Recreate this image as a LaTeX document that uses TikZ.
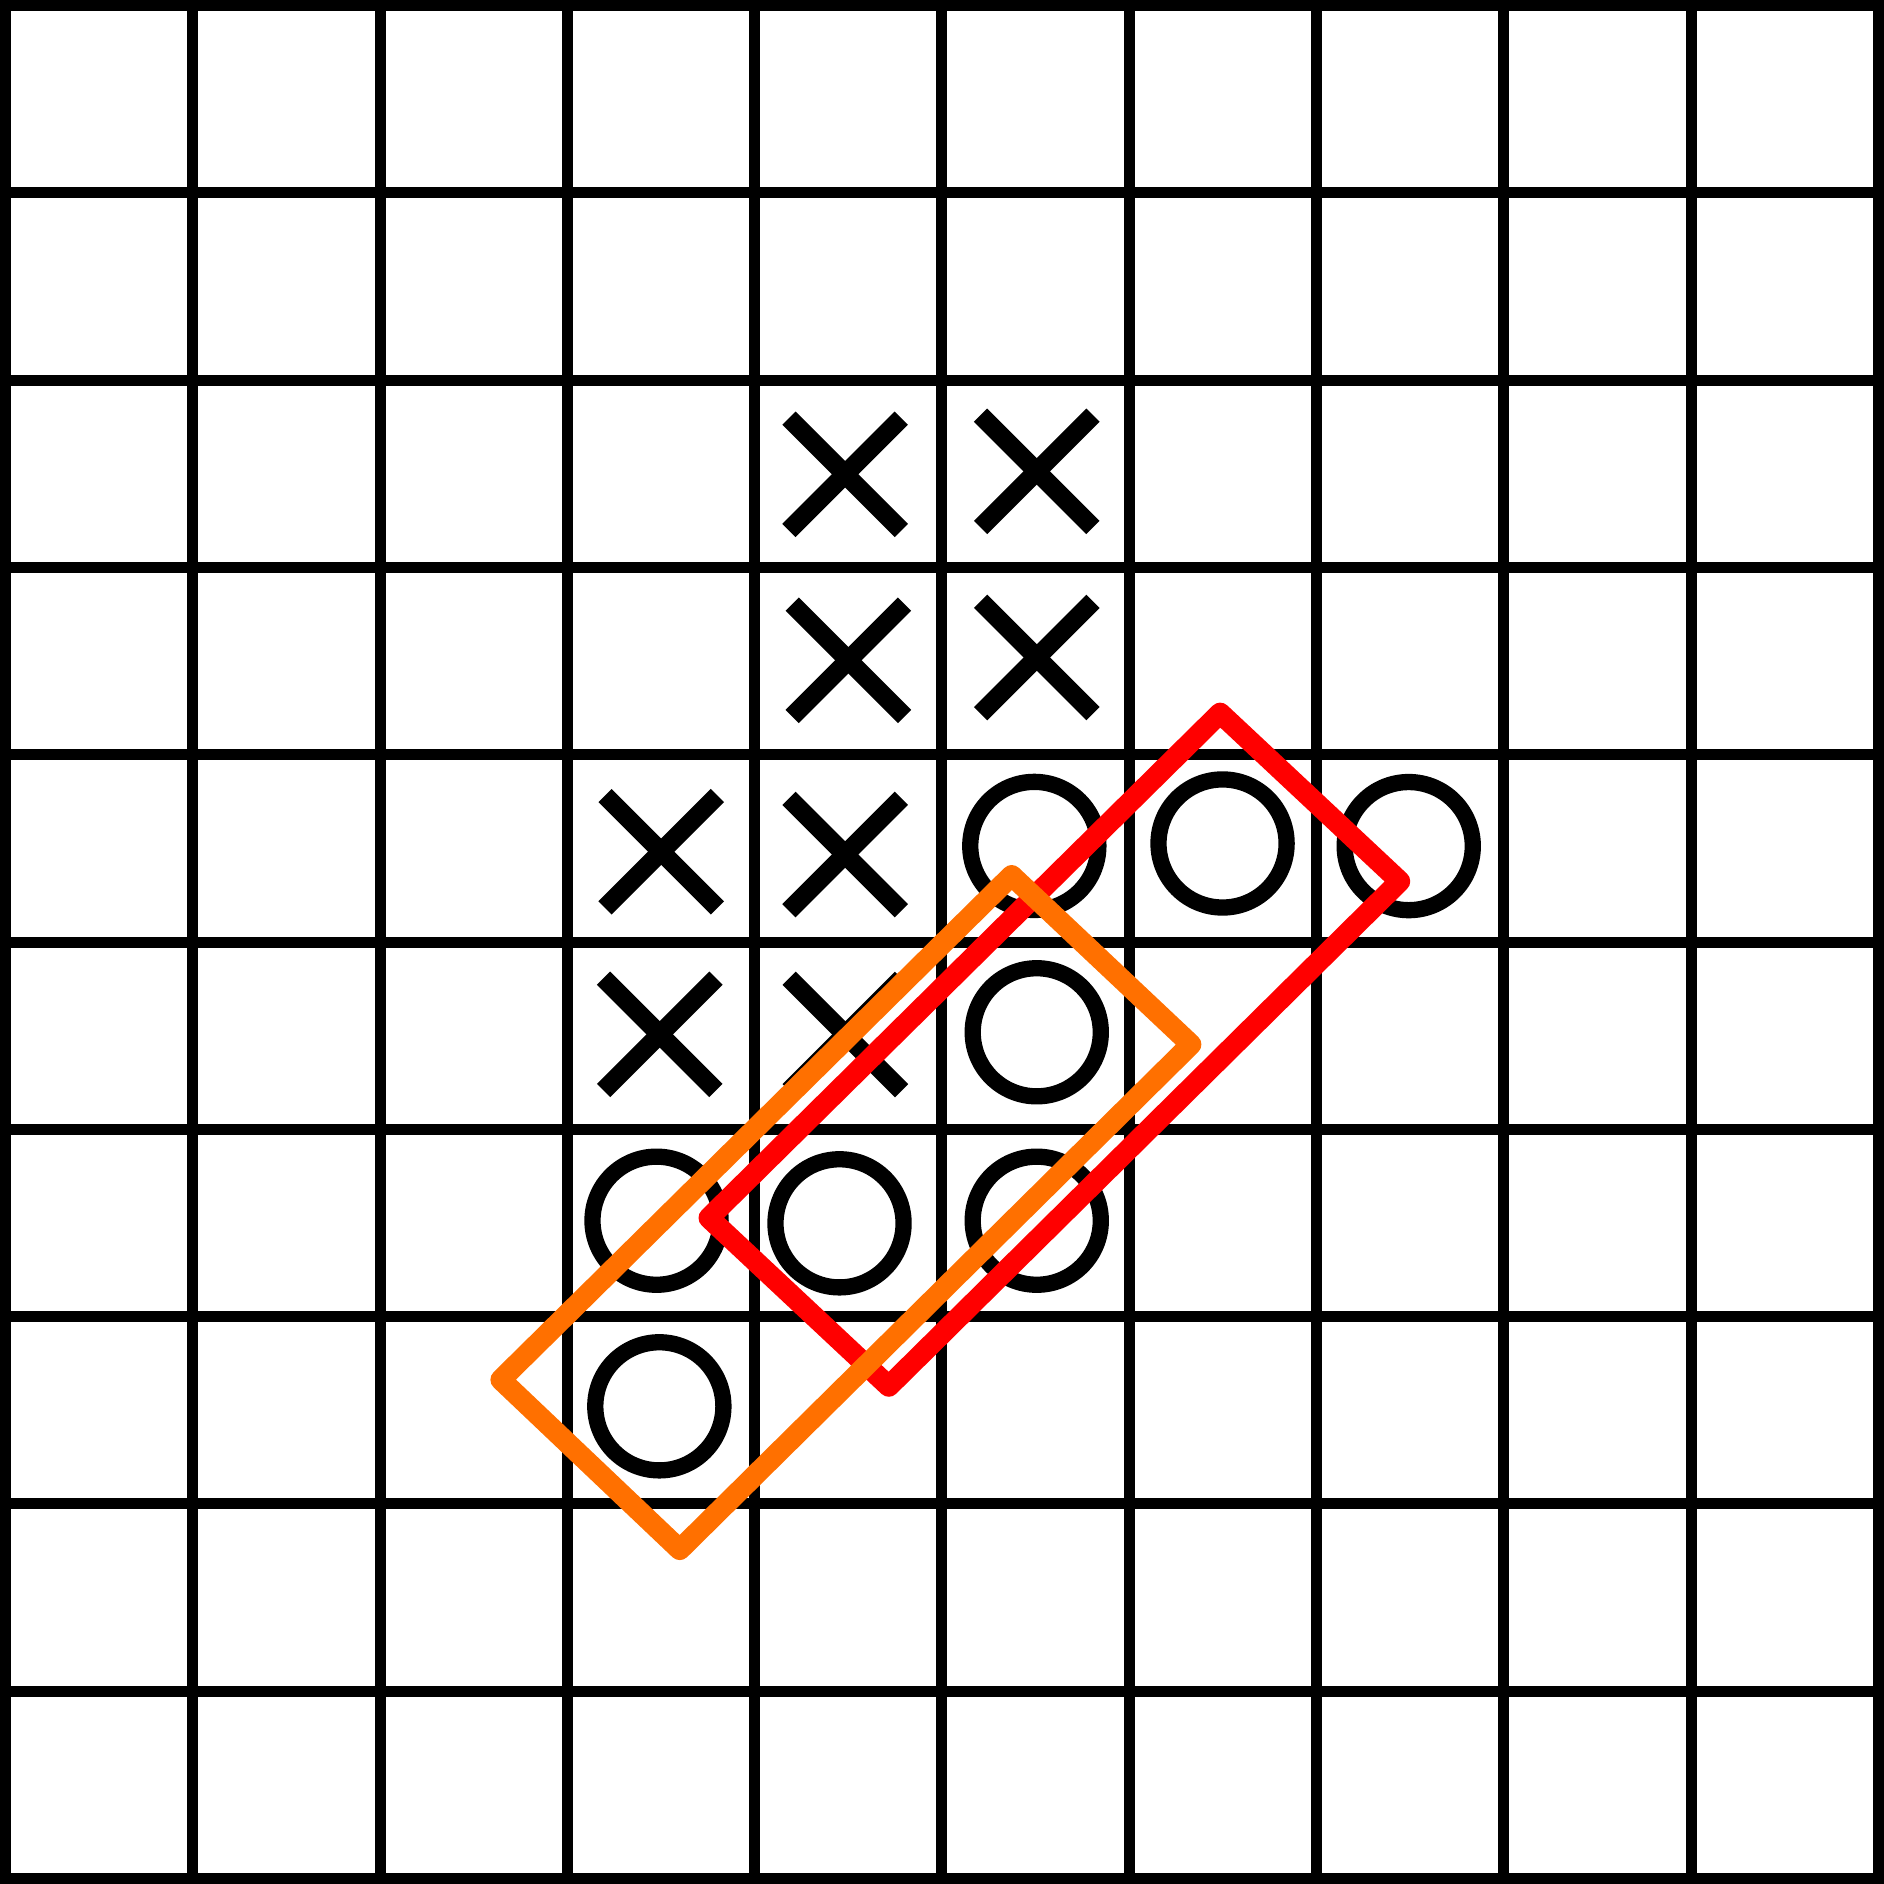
\documentclass[tikz,border=0pt]{standalone}
\definecolor{boxorange}{RGB}{255,112,0}
\begin{document}
\begin{tikzpicture}[
  x=1cm,
  y=1cm,
  grid/.style={draw=black,line width=0.0587cm,line cap=rect},
  cross/.style={draw=black,line width=0.1cm},
  nought/.style={draw=black,line width=0.087cm},
  redbox/.style={draw=red,line width=0.112cm,line join=round},
  orangebox/.style={draw=boxorange,line width=0.112cm,line join=round}
]
  \useasboundingbox (-0.0293,-0.0293) rectangle (10.0293,10.0293);
  \foreach \i in {0,...,10} {
    \draw[grid] (\i,0)--(\i,10);
    \draw[grid] (0,\i)--(10,\i);
  }

  \foreach \x/\y in {4.483/7.497,5.506/7.513,4.500/6.504,5.506/6.519,
                     3.501/5.482,4.483/5.467,3.493/4.507,4.484/4.506} {
    \draw[cross] ({\x-0.3},{\y+0.3})--({\x+0.3},{\y-0.3});
    \draw[cross] ({\x-0.3},{\y-0.3})--({\x+0.3},{\y+0.3});
  }

  \foreach \x/\y in {5.493/5.513,6.498/5.526,7.492/5.512,5.506/4.518,
                     3.476/3.512,4.453/3.498,5.506/3.512,3.491/2.521} {
    \draw[nought] (\x,\y) circle (0.342);
  }

  \draw[redbox] (6.485,6.222)--(7.444,5.324)--(4.716,2.628)--(3.756,3.527)--cycle;
  \draw[orangebox] (5.372,5.355)--(6.329,4.453)--(3.600,1.756)--(2.645,2.663)--cycle;
\end{tikzpicture}
\end{document}
